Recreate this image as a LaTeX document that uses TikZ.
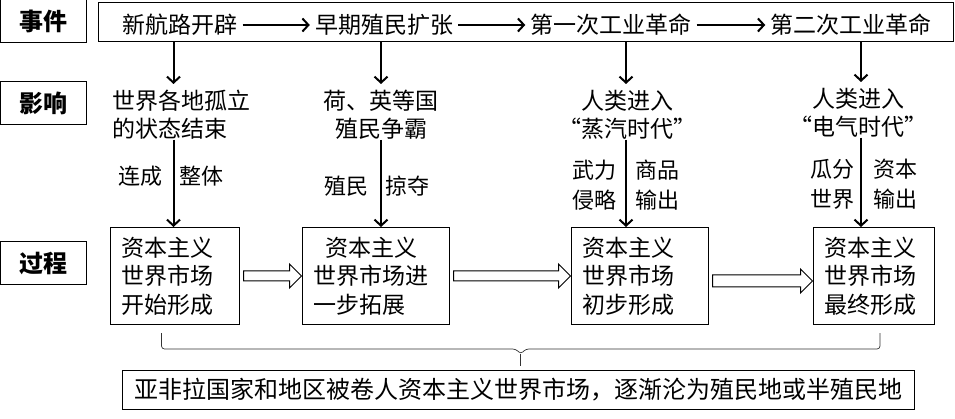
\documentclass[tikz,border=0pt]{standalone}
\usepackage{fontspec}
\setmainfont{Noto Sans CJK SC}
\usetikzlibrary{arrows.meta,positioning,calc}

% hollow block arrow from #1 to #2, shaft half width #3
\newcommand{\blockarrow}[3]{%
  \draw[line width=1pt, fill=white] let \p1=(#1), \p2=(#2) in
    (\x1,\y1+#3) -- (\x2-12pt,\y1+#3) -- (\x2-12pt,\y1+12pt) -- (\x2,\y1)
    -- (\x2-12pt,\y1-12pt) -- (\x2-12pt,\y1-#3) -- (\x1,\y1-#3) -- cycle;}

\begin{document}
\begin{tikzpicture}[x=1pt, y=-1pt,
labelbox/.style={rectangle, draw=black, line width=1pt, minimum width=86pt, minimum height=43pt, inner sep=0pt, font=\fontsize{24}{28}\selectfont\bfseries},
eventnode/.style={inner sep=5pt, font=\fontsize{23}{28}\selectfont},
impactnode/.style={inner sep=0pt, font=\fontsize{23}{28}\selectfont},
sidenode/.style={inner sep=0pt, align=left, font=\fontsize{22}{30}\selectfont},
marketbox/.style={rectangle, draw=black, line width=1pt, inner xsep=11pt, minimum height=97pt, align=left, font=\fontsize{23}{28.5}\selectfont},
thinarrow/.style={-{Straight Barb[length=6pt, width=13pt]}, line width=2pt},
bracestyle/.style={draw=black!80, line width=0.7pt, rounded corners=3pt},
]
    \useasboundingbox (0,0) rectangle (955,419);

    % row labels
    \node[labelbox] (shijian) at (43.5,21.5) {事件};
    \node[labelbox] (yingxiang) at (43.5,103) {影响};
    \node[labelbox] (guocheng) at (43.5,263.5) {过程};

    % column positions of the down arrows
    \coordinate (c1) at (173.5,0);
    \coordinate (c2) at (381,0);
    \coordinate (c3) at (626,0);
    \coordinate (c4) at (861,0);

    % events
    \node[draw, line width=1pt, minimum width=855pt, minimum height=39pt] (evbox) at (525.5,22.5) {};
    \node[eventnode] (hanglu) at (180,25) {新航路开辟};
    \node[eventnode] (zhimin) at (384,25) {早期殖民扩张};
    \node[eventnode] (gongye1) at (611,25) {第一次工业革命};
    \node[eventnode] (gongye2) at (851,25) {第二次工业革命};
    \draw[thinarrow] (hanglu) -- (zhimin);
    \draw[thinarrow] (zhimin) -- (gongye1);
    \draw[thinarrow] (gongye1) -- (gongye2);

    % impacts
    \node[impactnode, align=left, anchor=north west] (guli) at (112,90) {世界各地孤立\\的状态结束};
    \node[impactnode, align=center, anchor=north] (zhengba) at (381,90) {荷、英等国\\殖民争霸};
    \node[impactnode, align=center, anchor=north] (zhengqi) at (627,90) {人类进入\\“蒸汽时代”};
    \node[impactnode, align=center, anchor=north] (dianqi) at (858,88) {人类进入\\“电气时代”};
    \draw[thinarrow, shorten >=6pt] (evbox.south -| c1) -- (guli.north -| c1);
    \draw[thinarrow, shorten >=6pt] (evbox.south -| c2) -- (zhengba.north -| c2);
    \draw[thinarrow, shorten >=6pt] (evbox.south -| c3) -- (zhengqi.north -| c3);
    \draw[thinarrow, shorten >=6pt] (evbox.south -| c4) -- (dianqi.north -| c4);

    % process
    \node[marketbox, text width=107pt] (kaishi) at (174.5,276) {资本主义\\世界市场\\开始形成};
    \node[marketbox, text width=125pt] (tuozhan) at (375.5,276) {\hspace{12pt}资本主义\\世界市场进\\一步拓展};
    \node[marketbox, text width=115pt] (chubu) at (639.5,276) {资本主义\\世界市场\\初步形成};
    \node[marketbox, text width=99pt] (zuizhong) at (873.5,276) {资本主义\\世界市场\\最终形成};

    \draw[thinarrow] (guli.south -| c1) -- node[sidenode, pos=0.42, left=10pt] {连成} node[sidenode, pos=0.42, right=5pt] {整体} (kaishi.north -| c1);
    \draw[thinarrow] (zhengba.south -| c2) -- node[sidenode, pos=0.53, left=12pt] {殖民} node[sidenode, pos=0.53, right=3pt] {掠夺} (tuozhan.north -| c2);
    \draw[thinarrow] (zhengqi.south -| c3) -- node[sidenode, pos=0.52, left=9pt] {武力\\侵略} node[sidenode, pos=0.52, right=8pt] {商品\\输出} (chubu.north -| c3);
    \draw[thinarrow] (dianqi.south -| c4) -- node[sidenode, pos=0.52, left=6pt] {瓜分\\世界} node[sidenode, pos=0.52, right=11pt] {资本\\输出} (zuizhong.north -| c4);

    \blockarrow{[xshift=4pt]kaishi.east}{tuozhan.west}{5pt}
    \blockarrow{[xshift=4pt]tuozhan.east}{chubu.west}{5pt}
    \blockarrow{[xshift=4pt, yshift=-5pt]chubu.east}{zuizhong.west}{6pt}

    % brace and result
    \coordinate (bl) at ([xshift=-13pt, yshift=-8pt]kaishi.south);
    \coordinate (br) at ([xshift=6.5pt, yshift=-8pt]zuizhong.south);
    \coordinate (tip) at ($(bl)!0.5!(br)+(0,33)$);
    \draw[bracestyle] (bl) -- ++(0,16) -- ($(tip)+(-5,-17)$) -- ($(tip)+(0,-12)$) -- ($(tip)+(5,-17)$) -- ($(br)+(0,16)$) -- (br);
    \draw[draw=black!80, line width=0.7pt] ($(tip)+(0,-12)$) -- (tip);

    \node[draw, line width=1pt, minimum width=792pt, minimum height=39pt, font=\fontsize{24}{28}\selectfont] (yafeila) at (518,389.5) {亚非拉国家和地区被卷人资本主义世界市场，逐渐沦为殖民地或半殖民地};
\end{tikzpicture}
\end{document}
